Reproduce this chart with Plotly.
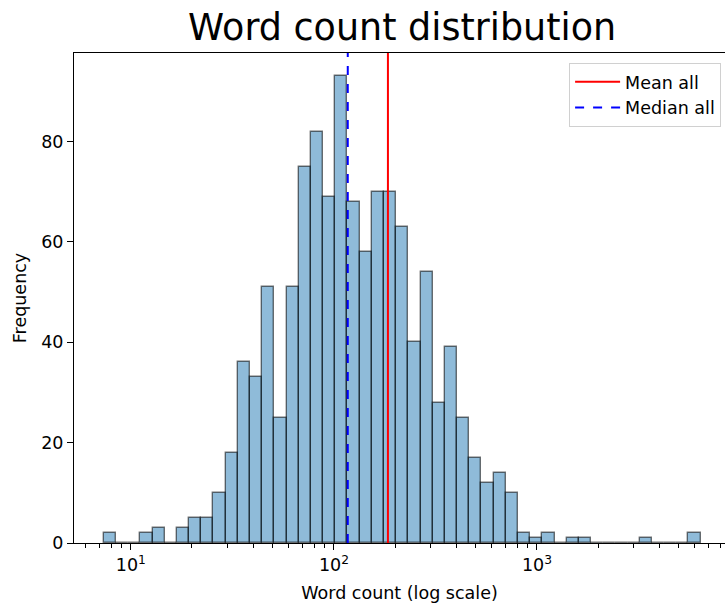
import numpy as np
import plotly.graph_objects as go

# ---- data ----
counts = [2, 0, 0, 2, 3, 0, 3, 5, 5, 10,
          18, 36, 33, 51, 25, 51, 75, 82, 69, 93,
          68, 58, 70, 70, 63, 40, 54, 28, 39, 25,
          17, 12, 14, 10, 2, 1, 2, 0, 1, 1,
          0, 0, 0, 0, 1, 0, 0, 0, 2]
word_min = 7.36      # smallest word count (first bin edge)
word_max = 6400.0    # largest word count (last bin edge)
mean_all = 184.5
median_all = 117.0
x_tick_vals = [1, 2, 3]
x_tick_text = ["10<sup>1</sup>", "10<sup>2</sup>", "10<sup>3</sup>"]
y_tick_vals = [0, 20, 40, 60, 80]

# ---- bins (log spaced) ----
n_bins = len(counts)
log_edges = np.linspace(np.log10(word_min), np.log10(word_max), n_bins + 1)
centers = (log_edges[:-1] + log_edges[1:]) / 2
bw = log_edges[1] - log_edges[0]

span = log_edges[-1] - log_edges[0]
x_lo = log_edges[0] - 0.05 * span
x_hi_full = log_edges[-1] + 0.05 * span
# reference picture is cropped at the right edge
x_hi = x_lo + (x_hi_full - x_lo) * (651 / 656.5)
y_hi = max(counts) * 1.05

minor_vals = []
for d in range(0, 4):
    for m in range(2, 10):
        v = d + np.log10(m)
        if x_lo <= v <= x_hi:
            minor_vals.append(v)

fig = go.Figure()
fig.add_trace(go.Bar(
    x=centers, y=counts, width=bw,
    marker=dict(color="rgba(31,119,180,0.5)",
                line=dict(color="rgba(0,0,0,0.55)", width=1.4)),
    showlegend=False, hoverinfo="skip",
))
fig.add_trace(go.Scatter(
    x=[np.log10(mean_all)] * 2, y=[0, y_hi], mode="lines",
    line=dict(color="red", width=2), name="Mean all",
))
fig.add_trace(go.Scatter(
    x=[np.log10(median_all)] * 2, y=[0, y_hi], mode="lines",
    line=dict(color="blue", width=2, dash="dash"), name="Median all",
))

font = "DejaVu Sans"
fs = 17.5
fig.update_layout(
    width=725, height=610,
    margin=dict(l=74, r=0, t=53, b=67),
    plot_bgcolor="white", paper_bgcolor="white",
    font=dict(family=font, size=fs, color="black"),
    title=dict(text="Word count distribution", xref="paper", x=0.504,
               xanchor="center", y=1 - 27 / 610, yanchor="middle",
               font=dict(size=36.5, family=font, color="black")),
    bargap=0,
    showlegend=True,
    legend=dict(x=0.994, y=0.98, xanchor="right", yanchor="top",
                bgcolor="rgba(255,255,255,0.8)", bordercolor="#d0d0d0",
                borderwidth=1, font=dict(size=fs, family=font),
                tracegroupgap=0, itemwidth=45),
    xaxis=dict(
        range=[x_lo, x_hi], tickmode="array", tickvals=x_tick_vals,
        ticktext=x_tick_text, ticks="outside", ticklen=6, tickwidth=1.1,
        tickcolor="black", showline=True, linecolor="black", linewidth=1.1,
        mirror=True, showgrid=False, zeroline=False,
        minor=dict(tickmode="array", tickvals=minor_vals, ticks="outside",
                   ticklen=3.5, tickwidth=1, tickcolor="black", showgrid=False),
        title=dict(text="Word count (log scale)", standoff=12,
                   font=dict(size=fs)),
    ),
    yaxis=dict(
        range=[0, y_hi], tickmode="array", tickvals=y_tick_vals,
        ticks="outside", ticklen=6, tickwidth=1.1, tickcolor="black",
        showline=True, linecolor="black", linewidth=1.1, showgrid=False,
        zeroline=False,
        title=dict(text="Frequency", standoff=10, font=dict(size=fs)),
    ),
)
fig.write_html("out.html")
